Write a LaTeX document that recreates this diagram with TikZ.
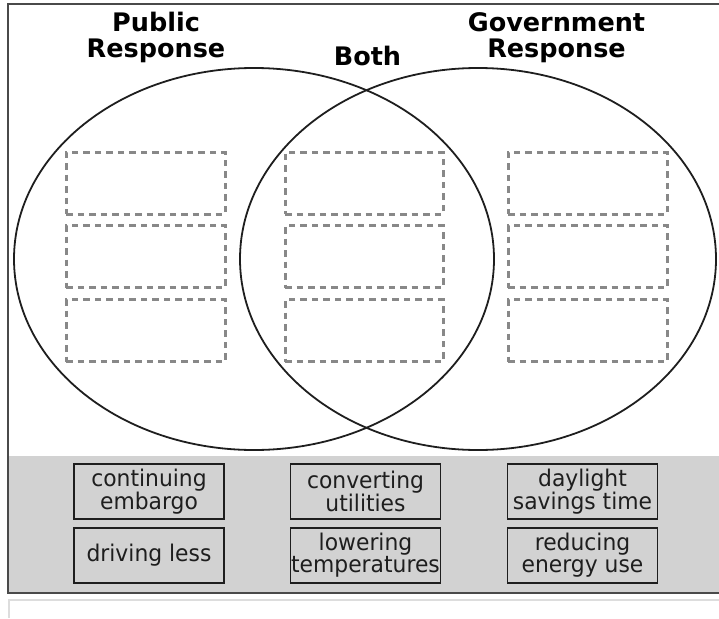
\documentclass[tikz,border=0pt]{standalone}
\usepackage{fontspec}
\setmainfont{DejaVu Sans}
\newfontfamily\chipfont[FakeStretch=0.95]{DejaVu Sans}
\definecolor{framegray}{HTML}{4A4A4A}
\definecolor{bandgray}{HTML}{D2D2D2}
\definecolor{slotgray}{HTML}{888888}
\definecolor{lightline}{HTML}{DDDDDD}
\definecolor{ink}{HTML}{1E1E1E}
\tikzset{
  ring/.style={draw=ink, line width=1.8pt},
  heading/.style={align=center, inner sep=0pt, text=black, font=\bfseries\fontsize{25.5}{25}\selectfont},
  slot/.style={draw=slotgray, line width=3pt, dash pattern=on 6.5pt off 5pt, inner sep=0pt, minimum width=159pt, minimum height=62pt},
  chip/.style={draw=ink, fill=bandgray, line width=1.3pt, inner sep=0pt, minimum width=150pt, minimum height=55pt, align=center, text=ink, font=\chipfont\fontsize{23}{22}\selectfont}
}
\begin{document}
\begin{tikzpicture}[x=1pt,y=-1pt]
    \useasboundingbox (0,0) rectangle (719,618);
    \fill[bandgray] (8,456) rectangle (719,593);
    \draw[framegray, line width=2.2pt] (719,4) -- (8,4) -- (8,593) -- (719,593);
    \draw[lightline, line width=1.5pt] (719,600) -- (9,600) -- (9,618);
    \draw[ring] (254,259) ellipse [x radius=240, y radius=191];
    \draw[ring] (478,259) ellipse [x radius=238, y radius=191];
    \node[heading, anchor=base] (public) at (156,57) {Public\\Response};
    \node[heading, anchor=base] (both) at (367.5,65) {Both};
    \node[heading, anchor=base] (government) at (556.5,57) {Government\\Response};
    \node[slot] (publicA) at (145.5,183) {};
    \node[slot] (publicB) at (145.5,256.5) {};
    \node[slot] (publicC) at (145.5,330.5) {};
    \node[slot, minimum width=158pt] (bothA) at (364,183) {};
    \node[slot, minimum width=158pt] (bothB) at (364,256.5) {};
    \node[slot, minimum width=158pt] (bothC) at (364,330.5) {};
    \node[slot] (governmentA) at (587.5,183) {};
    \node[slot] (governmentB) at (587.5,256.5) {};
    \node[slot] (governmentC) at (587.5,330.5) {};
    \node[chip] (embargo) at (149,491.5) {continuing\\embargo};
    \node[chip] (driving) at (149,555.5) {driving less};
    \node[chip] (utilities) at (365.5,491.5) {converting\\utilities};
    \node[chip] (lowering) at (365.5,555.5) {lowering\\temperatures};
    \node[chip] (daylight) at (582.5,491.5) {daylight\\savings time};
    \node[chip] (reducing) at (582.5,555.5) {reducing\\energy use};
\end{tikzpicture}
\end{document}
